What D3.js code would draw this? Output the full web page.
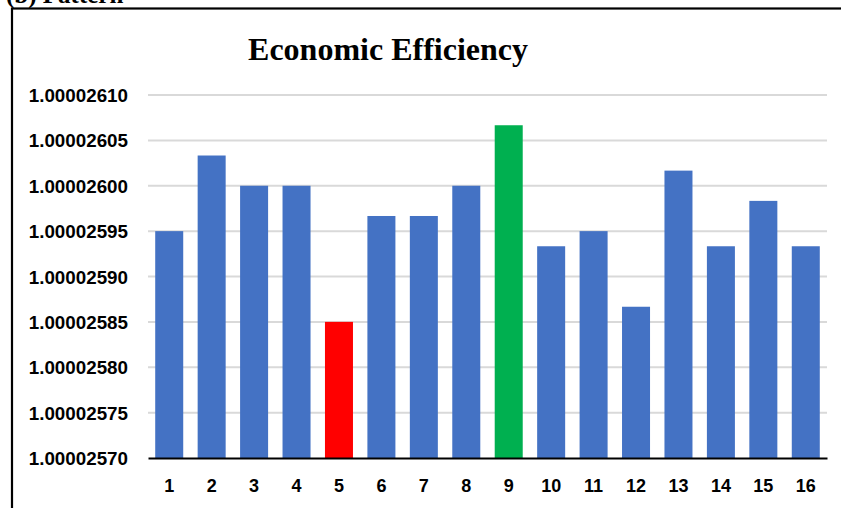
<!DOCTYPE html>
<html>
<head>
<meta charset="utf-8">
<script src="https://cdn.jsdelivr.net/npm/d3@7"></script>
<style>
  body { margin: 0; background: #fff; }
  svg { display: block; }
</style>
</head>
<body>
<svg id="chart"></svg>
<script>
// chart data
const categories = ['1','2','3','4','5','6','7','8','9','10','11','12','13','14','15','16'];
const efficiency = [
    1.00002595, 1.00002603333, 1.00002600, 1.00002600,
    1.00002585, 1.00002596667, 1.00002596667, 1.00002600,
    1.00002606667, 1.00002593333, 1.00002595, 1.00002586667,
    1.00002601667, 1.00002593333, 1.00002598333, 1.00002593333
];
const yTicks = [1.0000257, 1.00002575, 1.0000258, 1.00002585, 1.0000259,
                1.00002595, 1.000026, 1.00002605, 1.0000261];
const worstIndex = 4;
const bestIndex = 8;

const width = 841, height = 508;
const margin = { left: 148, right: 14, top: 95, bottom: 50 };

const svg = d3.select('#chart')
    .attr('width', width)
    .attr('height', height);

// panel caption clipped at the top of the picture
svg.append('text')
    .attr('x', 6)
    .attr('y', 3)
    .style('font-family', '"Liberation Serif", "Times New Roman", serif')
    .style('font-weight', 'bold')
    .style('font-size', '25px')
    .text('(b) Pattern');

// frame
svg.append('rect')
    .attr('x', 12)
    .attr('y', 8.5)
    .attr('width', 840)
    .attr('height', 520)
    .attr('fill', 'none')
    .attr('stroke', '#000')
    .attr('stroke-width', 2.2);

const x = d3.scaleBand()
    .domain(categories)
    .range([margin.left, width - margin.right])
    .paddingInner(0.34)
    .paddingOuter(0.17);

const y = d3.scaleLinear()
    .domain([yTicks[0], yTicks[yTicks.length - 1]])
    .range([height - margin.bottom, margin.top]);

// gridlines
svg.append('g')
    .selectAll('line')
    .data(yTicks.slice(1))
    .enter()
    .append('line')
    .attr('x1', margin.left)
    .attr('x2', width - margin.right)
    .attr('y1', d => y(d))
    .attr('y2', d => y(d))
    .attr('stroke', '#d9d9d9')
    .attr('stroke-width', 2);

// bars
svg.append('g')
    .selectAll('rect')
    .data(efficiency)
    .enter()
    .append('rect')
    .attr('x', (d, i) => x(categories[i]))
    .attr('width', x.bandwidth())
    .attr('y', d => y(d))
    .attr('height', d => y(yTicks[0]) - y(d))
    .attr('fill', (d, i) => i === worstIndex ? '#ff0000' : (i === bestIndex ? '#00b050' : '#4472c4'));

// y axis labels
const yAxis = svg.append('g')
    .attr('transform', `translate(${margin.left - 20},0)`)
    .call(d3.axisLeft(y).tickValues(yTicks).tickFormat(d3.format('.8f')).tickSize(0));
yAxis.select('.domain').remove();
yAxis.selectAll('text')
    .attr('x', 0)
    .attr('dy', '0.35em')
    .attr('fill', '#000')
    .style('font-family', '"Liberation Sans", Arial, sans-serif')
    .style('font-weight', 'bold')
    .style('font-size', '18.8px');

// x axis
const xAxis = svg.append('g')
    .attr('transform', `translate(0,${y(yTicks[0])})`)
    .call(d3.axisBottom(x).tickSize(0).tickSizeOuter(0));
xAxis.select('.domain')
    .attr('stroke', '#000')
    .attr('stroke-width', 2.2);
xAxis.selectAll('text')
    .attr('y', 21)
    .attr('dy', '0.71em')
    .attr('fill', '#000')
    .style('font-family', '"Liberation Sans", Arial, sans-serif')
    .style('font-weight', 'bold')
    .style('font-size', '18px');

// title
svg.append('text')
    .attr('x', 388)
    .attr('y', 60)
    .attr('text-anchor', 'middle')
    .style('font-family', '"Liberation Serif", "Times New Roman", serif')
    .style('font-weight', 'bold')
    .style('font-size', '32px')
    .text('Economic Efficiency');
</script>
</body>
</html>
